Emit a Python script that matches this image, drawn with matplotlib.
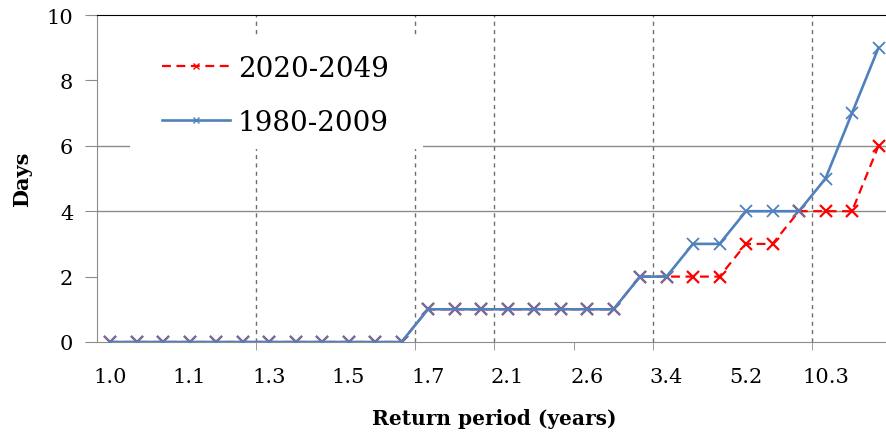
import numpy as np
import matplotlib
matplotlib.use('Agg')
import matplotlib.pyplot as plt
from matplotlib.patches import Rectangle

# ranked flood-duration days, 30 years, return period T = 31/m
days_future = [0]*12 + [1]*8 + [2, 2, 2, 2, 3, 3, 4, 4, 4, 6]
days_past = [0]*12 + [1]*8 + [2, 2, 3, 3, 4, 4, 4, 5, 7, 9]
labels = ['1.0', '1.1', '1.3', '1.5', '1.7', '2.1', '2.6', '3.4', '5.2', '10.3']
label_step = 3
yticks = [0, 2, 4, 6, 8, 10]

x = np.arange(len(days_past))

plt.rcParams['font.family'] = 'DejaVu Serif'

fig = plt.figure(figsize=(8.86, 4.35), dpi=100)
ax = fig.add_axes([0.1092, 0.2115, 0.8973, 0.7517])

grey = '#8c8c8c'

# grid lines that show in the original Excel chart
for yy in [4, 6]:
    ax.axhline(yy, color=grey, lw=1, zorder=1)
for xx in [5.5, 11.5, 14.5, 20.5, 26.5]:
    ax.axvline(xx, color='#6e6e6e', lw=1, ls=(0, (3, 3)), zorder=1)

ax.plot(x, days_future, color='#ff0000', lw=1.6, ls=(0, (4, 2.5)),
        marker='x', ms=8, mew=1.6, label='2020-2049', zorder=2)
ax.plot(x, days_past, color='#4f81bd', lw=1.9,
        marker='x', ms=8, mew=1.3, label='1980-2009', zorder=3)

ax.set_xlim(-0.5, len(x) - 0.5)
ax.set_ylim(0, 10)

ax.set_xticks(x[::label_step])
ax.set_xticklabels(labels)
ax.set_xticks([5.5, 11.5, 14.5, 17.5, 20.5, 26.5], minor=True)
ax.tick_params(axis='x', which='major', length=0, pad=18, labelsize=15)
ax.tick_params(axis='x', which='minor', length=6, color=grey, direction='out')

ax.set_yticks(yticks)
ax.tick_params(axis='y', length=9, color=grey, direction='out', pad=8,
               labelsize=15)

for s in ['left', 'bottom']:
    ax.spines[s].set_color(grey)
ax.spines['top'].set_color('black')
ax.spines['right'].set_visible(False)

ax.set_xlabel('Return period (years)', fontsize=14.5, fontweight='bold',
              labelpad=16)
ax.set_ylabel('Days', fontsize=15, fontweight='bold', labelpad=10)

# white legend panel (wider than the legend's own padding)
ax.add_patch(Rectangle((0.1467, 0.655), 0.3307, 0.2576, transform=fig.transFigure,
                       facecolor='white', edgecolor='none', zorder=1.5))

leg = ax.legend(loc='upper left', bbox_to_anchor=(0.159, 0.9195),
                bbox_transform=fig.transFigure, fontsize=20, frameon=False,
                borderpad=0.75, handlelength=2.45,
                handletextpad=0.29, labelspacing=0.98, borderaxespad=0)
for h in leg.legend_handles:
    h.set_markersize(5)
    h.set_markeredgewidth(1)

fig.savefig('out.png', dpi=100)
